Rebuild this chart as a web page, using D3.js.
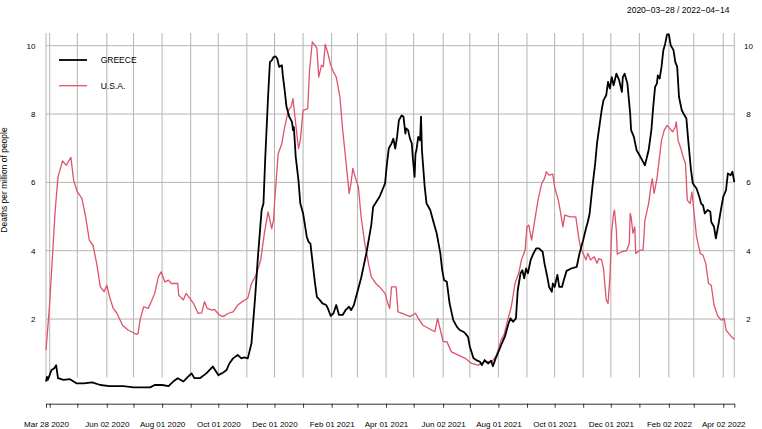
<!DOCTYPE html>
<html>
<head>
<meta charset="utf-8">
<script src="https://cdn.jsdelivr.net/npm/d3@7"></script>
<style>
  body { margin: 0; background: #fff; }
  svg { font-family: "Liberation Sans", Arial, sans-serif; }
</style>
</head>
<body>
<svg id="chart" width="762" height="429"></svg>
<script>
// daily deaths per million
const greece = [["2020-03-28",0.17],["2020-03-29",0.31],["2020-03-30",0.22],["2020-04-03",0.51],["2020-04-06",0.56],["2020-04-08",0.65],["2020-04-10",0.27],["2020-04-16",0.22],["2020-04-23",0.24],["2020-04-30",0.12],["2020-05-08",0.12],["2020-05-17",0.15],["2020-05-26",0.07],["2020-06-05",0.04],["2020-06-20",0.04],["2020-07-01",0.00],["2020-07-19",0.00],["2020-07-24",0.07],["2020-08-01",0.07],["2020-08-08",0.04],["2020-08-13",0.17],["2020-08-18",0.27],["2020-08-24",0.17],["2020-08-29",0.31],["2020-09-02",0.41],["2020-09-05",0.27],["2020-09-11",0.27],["2020-09-18",0.41],["2020-09-25",0.61],["2020-10-01",0.36],["2020-10-06",0.43],["2020-10-10",0.51],["2020-10-13",0.70],["2020-10-17",0.85],["2020-10-22",0.95],["2020-10-26",0.85],["2020-10-29",0.88],["2020-11-02",0.85],["2020-11-06",1.29],["2020-11-10",2.65],["2020-11-13",3.82],["2020-11-17",5.19],["2020-11-19",5.38],["2020-11-21",6.75],["2020-11-24",8.50],["2020-11-26",9.52],["2020-11-28",9.57],["2020-11-30",9.67],["2020-12-02",9.69],["2020-12-04",9.62],["2020-12-06",9.38],["2020-12-09",9.43],["2020-12-10",9.13],["2020-12-12",8.70],["2020-12-14",8.21],["2020-12-17",7.92],["2020-12-20",7.77],["2020-12-21",7.53],["2020-12-22",7.62],["2020-12-24",6.75],["2020-12-27",6.06],["2020-12-29",5.38],["2021-01-01",5.09],["2021-01-05",4.41],["2021-01-07",4.26],["2021-01-09",4.21],["2021-01-11",3.73],["2021-01-14",3.04],["2021-01-16",2.65],["2021-01-19",2.56],["2021-01-22",2.46],["2021-01-26",2.41],["2021-01-28",2.31],["2021-01-31",2.09],["2021-02-03",2.17],["2021-02-06",2.41],["2021-02-09",2.12],["2021-02-13",2.12],["2021-02-16",2.26],["2021-02-20",2.36],["2021-02-22",2.26],["2021-02-25",2.40],["2021-03-01",2.80],["2021-03-05",3.20],["2021-03-11",3.97],["2021-03-16",4.75],["2021-03-18",5.28],["2021-03-25",5.58],["2021-03-31",5.97],["2021-04-02",6.55],["2021-04-04",6.99],["2021-04-07",7.14],["2021-04-09",7.28],["2021-04-11",6.99],["2021-04-13",7.33],["2021-04-15",7.82],["2021-04-18",7.96],["2021-04-20",7.92],["2021-04-22",7.43],["2021-04-23",7.58],["2021-04-25",7.53],["2021-04-27",7.28],["2021-04-29",7.14],["2021-04-30",6.75],["2021-05-02",6.16],["2021-05-03",6.84],["2021-05-04",6.94],["2021-05-06",7.33],["2021-05-08",7.23],["2021-05-09",7.92],["2021-05-10",6.94],["2021-05-13",5.87],["2021-05-15",5.38],["2021-05-19",5.19],["2021-05-22",4.89],["2021-05-26",4.51],["2021-05-30",3.92],["2021-06-01",3.43],["2021-06-03",3.14],["2021-06-06",3.09],["2021-06-09",2.46],["2021-06-13",1.97],["2021-06-17",1.77],["2021-06-20",1.68],["2021-06-24",1.63],["2021-06-26",1.58],["2021-06-29",1.48],["2021-07-01",1.19],["2021-07-05",0.85],["2021-07-08",0.80],["2021-07-12",0.75],["2021-07-14",0.65],["2021-07-17",0.80],["2021-07-21",0.70],["2021-07-24",0.78],["2021-07-26",0.62],["2021-07-29",0.85],["2021-08-01",1.04],["2021-08-04",1.24],["2021-08-07",1.43],["2021-08-08",1.48],["2021-08-12",1.87],["2021-08-14",2.02],["2021-08-17",1.92],["2021-08-20",2.02],["2021-08-22",2.85],["2021-08-25",3.34],["2021-08-27",3.43],["2021-08-29",3.19],["2021-08-31",3.48],["2021-09-02",3.34],["2021-09-05",3.73],["2021-09-08",3.92],["2021-09-11",4.07],["2021-09-14",4.07],["2021-09-18",3.97],["2021-09-20",3.63],["2021-09-23",3.24],["2021-09-25",2.94],["2021-09-28",2.80],["2021-09-29",3.04],["2021-10-01",2.94],["2021-10-04",3.29],["2021-10-06",2.94],["2021-10-09",2.94],["2021-10-11",3.14],["2021-10-14",3.41],["2021-10-19",3.48],["2021-10-25",3.53],["2021-10-28",3.92],["2021-11-01",4.31],["2021-11-04",4.65],["2021-11-06",4.84],["2021-11-08",5.09],["2021-11-11",5.87],["2021-11-14",6.55],["2021-11-16",7.14],["2021-11-18",7.53],["2021-11-21",8.11],["2021-11-23",8.40],["2021-11-26",8.55],["2021-11-28",8.94],["2021-11-30",8.75],["2021-12-02",9.08],["2021-12-04",8.84],["2021-12-07",9.18],["2021-12-10",8.99],["2021-12-13",8.65],["2021-12-14",9.08],["2021-12-16",9.18],["2021-12-19",8.89],["2021-12-22",8.01],["2021-12-23",7.53],["2021-12-26",7.33],["2021-12-29",6.94],["2022-01-01",6.80],["2022-01-05",6.60],["2022-01-07",6.50],["2022-01-11",6.94],["2022-01-14",7.53],["2022-01-16",8.21],["2022-01-18",8.79],["2022-01-20",8.89],["2022-01-21",9.13],["2022-01-23",9.04],["2022-01-25",9.38],["2022-01-27",9.87],["2022-01-29",10.06],["2022-01-31",10.33],["2022-02-02",10.33],["2022-02-04",10.01],["2022-02-07",9.87],["2022-02-09",9.52],["2022-02-11",9.38],["2022-02-13",8.50],["2022-02-16",8.11],["2022-02-18",8.01],["2022-02-21",7.87],["2022-02-23",7.23],["2022-02-26",6.36],["2022-02-28",5.97],["2022-03-04",5.82],["2022-03-07",5.58],["2022-03-09",5.38],["2022-03-11",5.33],["2022-03-13",5.09],["2022-03-16",5.19],["2022-03-19",5.14],["2022-03-20",4.84],["2022-03-23",4.70],["2022-03-25",4.36],["2022-03-28",4.80],["2022-03-31",5.28],["2022-04-02",5.58],["2022-04-05",5.77],["2022-04-07",6.26],["2022-04-10",6.21],["2022-04-12",6.31],["2022-04-14",6.01]];

const usa = [["2020-03-28",1.09],["2020-04-01",2.46],["2020-04-07",5.19],["2020-04-10",6.16],["2020-04-15",6.63],["2020-04-19",6.50],["2020-04-24",6.73],["2020-04-27",6.06],["2020-05-01",5.72],["2020-05-06",5.53],["2020-05-10",4.99],["2020-05-14",4.31],["2020-05-18",4.16],["2020-05-22",3.63],["2020-05-26",2.94],["2020-05-30",2.80],["2020-06-02",2.99],["2020-06-05",2.65],["2020-06-09",2.31],["2020-06-13",2.17],["2020-06-19",1.82],["2020-06-25",1.68],["2020-07-01",1.60],["2020-07-04",1.55],["2020-07-06",1.58],["2020-07-08",1.97],["2020-07-12",2.36],["2020-07-17",2.31],["2020-07-24",2.75],["2020-07-28",3.24],["2020-07-31",3.38],["2020-08-04",3.09],["2020-08-08",3.14],["2020-08-11",3.04],["2020-08-18",3.04],["2020-08-19",2.70],["2020-08-24",2.56],["2020-08-27",2.75],["2020-08-31",2.61],["2020-09-04",2.46],["2020-09-09",2.17],["2020-09-13",2.18],["2020-09-16",2.51],["2020-09-19",2.31],["2020-09-24",2.26],["2020-09-27",2.28],["2020-10-02",2.12],["2020-10-06",2.07],["2020-10-12",2.17],["2020-10-17",2.21],["2020-10-22",2.41],["2020-10-27",2.51],["2020-11-02",2.61],["2020-11-06",3.04],["2020-11-11",3.29],["2020-11-16",3.73],["2020-11-20",4.51],["2020-11-24",5.14],["2020-11-28",4.65],["2020-11-30",4.90],["2020-12-01",5.40],["2020-12-05",6.84],["2020-12-09",7.14],["2020-12-12",7.62],["2020-12-16",8.11],["2020-12-19",8.21],["2020-12-21",8.45],["2020-12-24",7.72],["2020-12-27",6.99],["2020-12-29",7.23],["2021-01-01",8.11],["2021-01-06",8.16],["2021-01-08",9.28],["2021-01-11",10.11],["2021-01-14",10.01],["2021-01-16",9.92],["2021-01-18",9.08],["2021-01-21",9.43],["2021-01-23",9.38],["2021-01-25",10.04],["2021-01-28",9.77],["2021-01-31",9.43],["2021-02-03",9.23],["2021-02-06",9.08],["2021-02-10",8.50],["2021-02-13",7.53],["2021-02-16",6.75],["2021-02-20",5.68],["2021-02-22",5.97],["2021-02-24",6.41],["2021-02-27",6.11],["2021-03-02",5.87],["2021-03-05",4.99],["2021-03-09",4.21],["2021-03-13",3.63],["2021-03-16",3.24],["2021-03-21",3.04],["2021-03-25",2.94],["2021-03-31",2.75],["2021-04-03",2.46],["2021-04-05",2.31],["2021-04-07",2.94],["2021-04-12",2.94],["2021-04-14",2.21],["2021-04-20",2.15],["2021-04-27",2.07],["2021-05-03",2.17],["2021-05-06",2.02],["2021-05-11",1.82],["2021-05-17",1.73],["2021-05-24",1.63],["2021-05-27",2.02],["2021-05-30",1.68],["2021-06-02",1.34],["2021-06-06",1.34],["2021-06-11",1.04],["2021-06-18",0.95],["2021-06-26",0.85],["2021-07-03",0.70],["2021-07-10",0.65],["2021-07-17",0.75],["2021-07-25",0.75],["2021-07-30",0.95],["2021-08-04",1.39],["2021-08-07",1.53],["2021-08-11",1.97],["2021-08-15",2.36],["2021-08-19",3.04],["2021-08-23",3.34],["2021-08-26",3.73],["2021-08-30",4.02],["2021-09-01",4.70],["2021-09-03",4.75],["2021-09-06",4.31],["2021-09-10",4.99],["2021-09-13",5.48],["2021-09-17",5.97],["2021-09-20",6.11],["2021-09-22",6.31],["2021-09-25",6.21],["2021-09-29",6.24],["2021-10-01",5.87],["2021-10-05",5.48],["2021-10-07",5.19],["2021-10-10",4.70],["2021-10-12",5.04],["2021-10-18",4.99],["2021-10-24",4.99],["2021-10-27",4.41],["2021-10-29",4.11],["2021-11-01",3.92],["2021-11-04",3.73],["2021-11-06",3.92],["2021-11-09",3.73],["2021-11-13",3.82],["2021-11-16",3.63],["2021-11-18",3.77],["2021-11-21",3.73],["2021-11-23",3.48],["2021-11-26",2.56],["2021-11-28",2.46],["2021-11-30",3.24],["2021-12-02",4.60],["2021-12-04",5.09],["2021-12-05",5.19],["2021-12-07",4.60],["2021-12-08",3.90],["2021-12-13",3.97],["2021-12-18",4.00],["2021-12-21",4.21],["2021-12-22",5.09],["2021-12-23",4.99],["2021-12-25",4.51],["2021-12-27",4.70],["2021-12-28",3.92],["2022-01-02",4.02],["2022-01-05",4.02],["2022-01-07",4.89],["2022-01-11",5.38],["2022-01-14",5.97],["2022-01-15",6.11],["2022-01-17",5.68],["2022-01-20",6.11],["2022-01-22",6.55],["2022-01-25",7.23],["2022-01-28",7.53],["2022-01-31",7.67],["2022-02-03",7.58],["2022-02-06",7.48],["2022-02-09",7.62],["2022-02-10",7.77],["2022-02-12",7.23],["2022-02-15",6.99],["2022-02-18",6.70],["2022-02-20",6.55],["2022-02-22",5.48],["2022-02-25",5.38],["2022-02-27",5.72],["2022-03-01",5.19],["2022-03-04",4.41],["2022-03-08",3.92],["2022-03-11",3.87],["2022-03-14",3.63],["2022-03-17",3.04],["2022-03-20",2.99],["2022-03-23",2.41],["2022-03-27",2.09],["2022-03-31",1.97],["2022-04-03",2.02],["2022-04-05",1.68],["2022-04-08",1.58],["2022-04-11",1.48],["2022-04-14",1.41]];

const seriesNames = ["GREECE", "U.S.A."];
const seriesColors = ["#000000", "#DF536B"];

// x ticks (every one gets a grid line, only some a label)
const tickDates = ["2020-03-28","2020-04-01","2020-05-01","2020-06-02","2020-07-01","2020-08-01","2020-09-01","2020-10-01","2020-11-01","2020-12-01","2021-01-01","2021-02-01","2021-03-01","2021-04-01","2021-05-01","2021-06-02","2021-07-01","2021-08-01","2021-09-01","2021-10-01","2021-11-01","2021-12-01","2022-01-01","2022-02-02","2022-03-01","2022-04-02","2022-04-14"];
const labelDates = ["2020-03-28","2020-06-02","2020-08-01","2020-10-01","2020-12-01","2021-02-01","2021-04-01","2021-06-02","2021-08-01","2021-10-01","2021-12-01","2022-02-02","2022-04-02"];
const yTicks = [2, 4, 6, 8, 10];

const parse = d3.timeParse("%Y-%m-%d");
const fmt = d3.timeFormat("%b %d %Y");

const svg = d3.select("#chart");

const x = d3.scaleTime()
  .domain([parse("2020-03-28"), parse("2022-04-14")])
  .range([46, 734.3]);
const y = d3.scaleLinear()
  .domain([0, 10])
  .range([387.4, 45.7]);

const gridTop = 33, gridBottom = 377.5;

// vertical grid
svg.append("g")
  .selectAll("line")
  .data(tickDates.map(parse))
  .enter().append("line")
  .attr("x1", d => x(d)).attr("x2", d => x(d))
  .attr("y1", gridTop).attr("y2", gridBottom)
  .attr("stroke", "#b4b4b4")
  .attr("stroke-width", 1);

// horizontal grid
svg.append("g")
  .selectAll("line")
  .data(yTicks)
  .enter().append("line")
  .attr("x1", x.range()[0]).attr("x2", x.range()[1])
  .attr("y1", d => y(d)).attr("y2", d => y(d))
  .attr("stroke", "#b4b4b4")
  .attr("stroke-width", 1);

// y labels, both sides
svg.append("g")
  .selectAll("text")
  .data(yTicks)
  .enter().append("text")
  .attr("x", 35.5).attr("y", d => y(d))
  .attr("dy", "0.35em")
  .attr("text-anchor", "end")
  .style("font-size", "8px")
  .text(d => d);
svg.append("g")
  .selectAll("text")
  .data(yTicks)
  .enter().append("text")
  .attr("x", 748.5).attr("y", d => y(d))
  .attr("dy", "0.35em")
  .attr("text-anchor", "middle")
  .style("font-size", "8px")
  .text(d => d);

// x axis
const labelSet = new Set(labelDates);
const xAxis = d3.axisBottom(x)
  .tickValues(tickDates.map(parse))
  .tickSizeInner(4)
  .tickSizeOuter(0)
  .tickPadding(14)
  .tickFormat(d => labelSet.has(d3.timeFormat("%Y-%m-%d")(d)) ? fmt(d) : "");
const gx = svg.append("g")
  .attr("transform", "translate(0,403.7)")
  .call(xAxis);
gx.select(".domain").attr("stroke", "#333");
gx.selectAll(".tick line").attr("stroke", "#333");
gx.selectAll("text")
  .style("font-size", "8px")
  .style("font-family", "Liberation Sans, Arial, sans-serif")
  .attr("fill", "#000");

// lines
const line = d3.line()
  .x(d => x(parse(d[0])))
  .y(d => y(d[1]));

svg.append("path")
  .datum(usa)
  .attr("fill", "none")
  .attr("stroke", seriesColors[1])
  .attr("stroke-width", 1.3)
  .attr("stroke-linejoin", "round")
  .attr("d", line);

svg.append("path")
  .datum(greece)
  .attr("fill", "none")
  .attr("stroke", seriesColors[0])
  .attr("stroke-width", 1.8)
  .attr("stroke-linejoin", "round")
  .attr("d", line);

// legend
const legend = svg.append("g");
seriesNames.forEach((name, i) => {
  const ly = 60 + i * 25.7;
  legend.append("line")
    .attr("x1", 59).attr("x2", 87)
    .attr("y1", ly).attr("y2", ly)
    .attr("stroke", seriesColors[i])
    .attr("stroke-width", i === 0 ? 1.8 : 1.3);
  legend.append("text")
    .attr("x", 100.7).attr("y", ly)
    .attr("dy", "0.35em")
    .style("font-size", "8.5px")
    .text(name);
});

// title and axis title
svg.append("text")
  .attr("x", 729.5).attr("y", 10)
  .attr("dy", "0.35em")
  .attr("text-anchor", "end")
  .style("font-size", "8.5px")
  .text("2020\u221203\u221228 / 2022\u221204\u221214");

svg.append("text")
  .attr("transform", "translate(4,180) rotate(-90)")
  .attr("dy", "0.35em")
  .attr("text-anchor", "middle")
  .style("font-size", "8.5px")
  .text("Deaths per million of people");
</script>
</body>
</html>
